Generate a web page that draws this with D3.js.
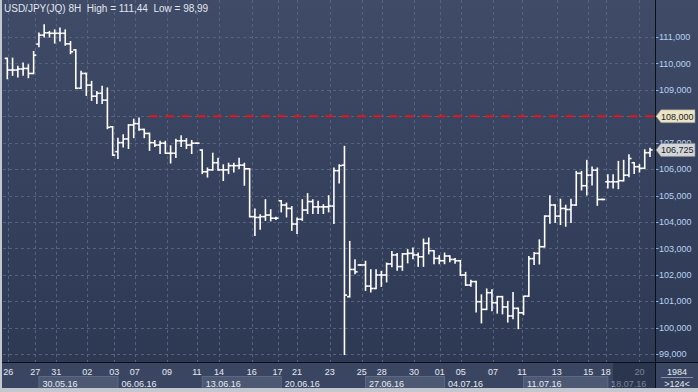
<!DOCTYPE html>
<html><head><meta charset="utf-8">
<script src="https://cdn.jsdelivr.net/npm/d3@7/dist/d3.min.js"></script>
<style>html,body{margin:0;padding:0;background:#34405b;}svg{display:block;font-family:"Liberation Sans",Arial,sans-serif;}</style>
</head><body><svg id="chart" width="698" height="392"></svg>
<script>
// ---- DATA (8H OHLC bars, USD/JPY) ----
const opens  = [110.19,109.75,109.75,109.79,109.81,109.62,110.73,111.07,111.16,111.14,111.14,111.14,110.74,110.51,109.06,109.62,109.18,108.76,108.87,108.61,
107.60,106.66,107.00,107.14,107.67,107.72,107.50,107.35,107.00,106.91,106.98,106.60,106.60,107.07,107.07,106.91,106.98,106.72,105.90,105.97,
106.24,105.97,105.97,106.13,106.13,106.15,106.01,104.20,104.17,104.20,104.26,104.14,104.80,104.64,104.51,103.92,104.10,104.45,104.77,104.57,
104.57,104.57,104.60,105.94,106.15,101.17,102.20,102.37,102.37,101.57,101.48,101.99,101.99,102.41,102.75,102.31,102.79,102.81,102.75,102.68,
103.19,102.91,102.62,102.53,102.71,102.58,102.53,101.99,101.61,101.74,100.98,100.69,101.32,100.94,101.17,100.78,100.44,100.73,100.56,101.19,
102.61,102.81,103.06,104.22,104.64,104.22,104.51,104.47,104.64,105.84,105.37,105.77,105.96,104.85,105.52,105.52,105.52,105.56,105.77,106.24,
106.09,106.03,106.62];
const highs  = [110.19,110.19,109.88,110.00,109.94,110.44,111.14,111.45,111.20,111.26,111.33,111.26,110.82,110.51,109.69,109.62,109.31,108.93,109.12,109.06,
107.60,107.16,107.29,107.67,107.88,107.92,107.50,107.35,107.07,107.04,107.04,106.87,107.12,107.25,107.14,107.07,106.98,106.72,106.03,106.59,
106.40,106.15,106.21,106.21,106.40,106.21,106.01,104.48,104.26,104.83,104.45,104.17,104.80,104.70,104.57,104.14,104.83,105.06,104.83,104.77,
104.64,104.98,106.03,106.15,106.85,103.25,102.56,102.37,102.50,102.18,102.18,102.12,102.43,102.87,102.79,102.79,102.94,103.00,102.81,103.34,
103.38,102.91,102.71,102.81,102.71,102.60,102.53,102.08,101.78,101.74,101.23,101.45,101.42,101.17,101.17,100.98,101.32,100.73,101.17,102.68,
102.83,103.31,104.22,104.98,104.64,104.85,104.62,104.85,105.90,105.90,106.32,106.07,106.03,104.85,105.77,105.77,106.28,106.32,106.53,106.24,
106.16,106.72,106.78];
const lows   = [109.43,109.56,109.50,109.56,109.47,109.62,110.64,111.01,111.01,110.78,110.86,110.70,110.38,109.06,109.06,108.80,108.61,108.49,108.49,107.54,
106.53,106.41,106.85,106.79,107.20,107.48,107.20,106.72,106.87,106.60,106.60,106.24,106.45,106.87,106.79,106.60,106.98,105.84,105.71,105.97,
105.97,105.58,105.84,105.90,106.03,105.40,104.20,103.50,103.73,104.07,104.05,104.10,104.39,104.20,103.69,103.57,104.07,104.33,104.33,104.33,
104.33,104.39,103.95,105.48,98.99,101.17,102.05,102.37,101.42,101.36,101.48,101.57,101.74,102.31,102.18,102.18,102.46,102.62,102.33,102.33,
102.80,102.43,102.43,102.43,102.50,102.45,101.99,101.61,101.58,100.60,100.19,100.69,100.65,100.56,100.53,100.22,100.35,99.97,100.50,101.19,
102.40,102.42,103.06,103.96,103.99,103.91,103.85,103.99,104.64,105.22,105.03,105.41,104.64,104.85,105.30,105.30,105.27,105.56,105.72,105.84,
105.90,106.03,106.49];
const closes = [109.75,109.75,109.79,109.81,109.62,110.31,111.07,111.16,111.14,111.14,111.14,110.74,110.44,109.06,109.62,109.18,108.76,108.87,108.61,107.58,
106.53,107.00,107.14,107.67,107.72,107.50,107.35,107.00,106.91,106.98,106.60,106.60,107.07,107.07,106.91,106.98,106.98,105.90,105.97,106.24,
105.97,105.97,106.13,106.13,106.15,106.01,104.20,104.17,104.20,104.26,104.14,104.14,104.64,104.51,103.92,104.10,104.45,104.77,104.57,104.57,
104.57,104.60,105.94,106.13,101.23,102.20,102.11,102.37,101.57,101.48,101.99,101.99,102.41,102.75,102.31,102.79,102.81,102.75,102.68,103.19,
102.91,102.62,102.53,102.71,102.58,102.53,101.99,101.61,101.74,100.98,100.69,101.32,100.94,101.17,100.78,100.44,100.73,100.56,101.19,102.61,
102.81,103.06,104.22,104.64,104.22,104.51,104.47,104.64,105.84,105.37,105.77,105.96,104.85,104.85,105.52,105.52,105.56,105.77,106.40,106.09,
106.03,106.62,106.725];

const yTicks = [99,100,101,102,103,104,105,106,107,108,109,110,111];
const levelPrice = 108.000;     // horizontal red level
const levelStartBar = 27;
const lastPrice = 106.725;

const dayLabels   = ["26","27","31","02","03","07","09","11","14","16","17","21","23","25","28","30","01","05","07","11","13","15","18","20"];
const dayLabelBar = [0.2,5.3,9.3,15.2,20.3,24.2,30.3,36.0,40.2,46.4,51.3,55.0,61.2,67.3,71.1,77.2,82.1,86.1,92.2,97.7,104.3,110.3,113.6,120.0];
const weekLabels  = ["30.05.16","06.06.16","13.06.16","20.06.16","27.06.16","04.07.16","11.07.16","18.07.16"];
const weekStart   = [6,21,37,52,68,83,98,114];
const weekShaded  = [true,false,true,false,true,false,true,false];

const title = "USD/JPY(JQ) 8H  High = 111,44  Low = 98,99";
const cornerTop = "1984", cornerBottom = ">124<";

// ---- LAYOUT ----
const W = 698, H = 392;
const plot = {left: 3, right: 655, top: 0, bottom: 362};
const svg = d3.select("#chart");
const N = closes.length;
const x = d3.scaleLinear().domain([0, N - 1]).range([7.3, 650]);
const y = d3.scaleLinear().domain([99, 111]).range([354, 37]);
const step = x(1) - x(0);
const fmt = v => d3.format(".3f")(v).replace(".", ",");

const defs = svg.append("defs");
const g1 = defs.append("linearGradient").attr("id","bg").attr("x1",0).attr("y1",0).attr("x2",0).attr("y2",1);
g1.append("stop").attr("offset","0%").attr("stop-color","#3f4b67");
g1.append("stop").attr("offset","100%").attr("stop-color","#2c3752");
defs.append("clipPath").attr("id","clipPlot").append("rect")
  .attr("x",plot.left).attr("y",plot.top).attr("width",plot.right-plot.left).attr("height",plot.bottom-plot.top);

// background
svg.append("rect").attr("width",W).attr("height",H).attr("fill","url(#bg)");

// grid
const grid = svg.append("g").attr("clip-path","url(#clipPlot)")
  .attr("stroke","#56627f").attr("stroke-width",1).attr("stroke-dasharray","3,3");
grid.selectAll("line.h").data(yTicks).join("line")
  .attr("x1",plot.left).attr("x2",plot.right)
  .attr("y1",d=>Math.round(y(d))+0.5).attr("y2",d=>Math.round(y(d))+0.5);
grid.selectAll("line.v").data(dayLabelBar).join("line")
  .attr("y1",plot.top).attr("y2",plot.bottom)
  .attr("x1",d=>Math.round(x(d))+0.5).attr("x2",d=>Math.round(x(d))+0.5);

// red level line
svg.append("line").attr("x1",x(levelStartBar)).attr("x2",plot.right)
  .attr("y1",y(levelPrice)).attr("y2",y(levelPrice))
  .attr("stroke","#e8131b").attr("stroke-width",2).attr("stroke-dasharray","8,8");

// OHLC bars
const bars = svg.append("g").attr("clip-path","url(#clipPlot)")
  .attr("stroke","#ffffff").attr("stroke-width",1.6).attr("fill","none");
const idx = d3.range(N);
bars.selectAll("line.hl").data(idx).join("line")
  .attr("x1",i=>x(i)).attr("x2",i=>x(i))
  .attr("y1",i=>y(highs[i])-0.8).attr("y2",i=>y(lows[i])+0.8);
bars.selectAll("line.o").data(idx).join("line")
  .attr("x1",i=>x(i)-step/2).attr("x2",i=>x(i))
  .attr("y1",i=>y(opens[i])).attr("y2",i=>y(opens[i]));
bars.selectAll("line.c").data(idx).join("line")
  .attr("x1",i=>x(i)).attr("x2",i=>x(i)+step/2)
  .attr("y1",i=>y(closes[i])).attr("y2",i=>y(closes[i]));

// title
svg.append("text").attr("x",4).attr("y",11.5).attr("font-size",10).attr("fill","#e2e6ee")
  .style("white-space","pre").attr("xml:space","preserve").text(title);

// bottom axis area
svg.append("rect").attr("x",0).attr("y",plot.bottom).attr("width",W).attr("height",H-plot.bottom).attr("fill","#3a4661");
const wk = svg.append("g");
weekLabels.forEach((t,i)=>{
  const x0 = x(weekStart[i]);
  const x1 = i < weekLabels.length-1 ? x(weekStart[i+1]) : plot.right;
  if (weekShaded[i]) {
    wk.append("rect").attr("x",x0).attr("y",376.5).attr("width",x1-x0).attr("height",12)
      .attr("fill","#4d5973").attr("stroke","#5d6984").attr("stroke-width",1);
  }
});
svg.selectAll("text.day").data(dayLabels).join("text")
  .attr("x",(d,i)=>x(dayLabelBar[i])).attr("y",375).attr("text-anchor","middle")
  .attr("font-size",9).attr("fill","#e4e9f2").text(d=>d);
svg.selectAll("text.week").data(weekLabels).join("text")
  .attr("x",(d,i)=>x(weekStart[i])+3.5).attr("y",386.5)
  .attr("font-size",9).attr("fill","#e4e9f2").text(d=>d);
// current (incomplete) week darkened
svg.append("rect").attr("x",x(weekStart[weekStart.length-1]+1)).attr("y",plot.bottom+1)
  .attr("width",plot.right-x(weekStart[weekStart.length-1]+1)).attr("height",H-plot.bottom-5)
  .attr("fill","#1e2840").attr("opacity",0.55);

// separators
svg.append("line").attr("x1",0).attr("x2",W).attr("y1",plot.bottom+0.5).attr("y2",plot.bottom+0.5).attr("stroke","#0b0f18");
svg.append("line").attr("x1",plot.right+0.5).attr("x2",plot.right+0.5).attr("y1",0).attr("y2",388).attr("stroke","#0b0f18");

// right axis
const ra = svg.append("g");
ra.selectAll("line").data(yTicks).join("line")
  .attr("x1",plot.right+1).attr("x2",plot.right+3.5)
  .attr("y1",d=>Math.round(y(d))+0.5).attr("y2",d=>Math.round(y(d))+0.5)
  .attr("stroke","#8fb4e0");
ra.selectAll("text").data(yTicks.filter(d=>d!==levelPrice)).join("text")
  .attr("x",659).attr("y",d=>y(d)+3.3).attr("font-size",9).attr("fill","#b9d3f2").text(d=>fmt(d));

function callout(v, fill){
  const yc = y(v);
  svg.append("path")
    .attr("d",`M${plot.right+1},${yc} L${plot.right+6},${yc-6.5} L695,${yc-6.5} L695,${yc+6.5} L${plot.right+6},${yc+6.5} Z`)
    .attr("fill",fill).attr("stroke","#8a8a80").attr("stroke-width",0.6);
  svg.append("text").attr("x",661).attr("y",yc+3.3).attr("font-size",9).attr("fill","#1d1d1d").text(fmt(v));
}
callout(levelPrice, "#ebe4c6");
callout(lastPrice, "#d3d6d9");

// corner
svg.append("text").attr("x",677).attr("y",374.5).attr("text-anchor","middle").attr("font-size",9).attr("fill","#e4e9f2").text(cornerTop);
svg.append("line").attr("x1",661).attr("x2",693).attr("y1",377.5).attr("y2",377.5).attr("stroke","#8792a8");
svg.append("text").attr("x",677).attr("y",386.5).attr("text-anchor","middle").attr("font-size",9).attr("fill","#e4e9f2").text(cornerBottom);

// frame
svg.append("rect").attr("x",0).attr("y",0).attr("width",2).attr("height",H).attr("fill","#c3c8d0");
svg.append("rect").attr("x",0).attr("y",388).attr("width",W).attr("height",4).attr("fill","#c3c8d0");
</script></body></html>
